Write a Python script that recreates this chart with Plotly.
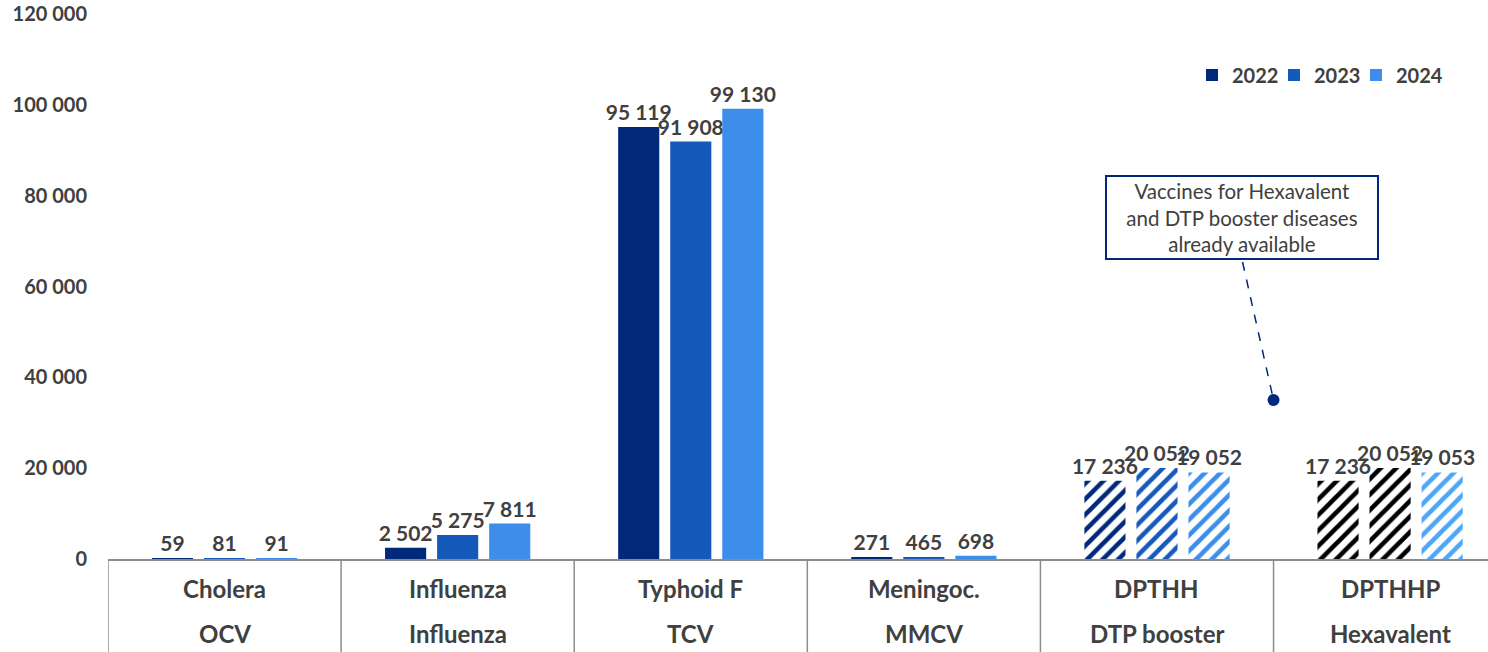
import plotly.graph_objects as go

diseases = ["Cholera", "Influenza", "Typhoid F", "Meningoc.", "DPTHH", "DPTHHP"]
vaccines = ["OCV", "Influenza", "TCV", "MMCV", "DTP booster", "Hexavalent"]
years = ["2022", "2023", "2024"]
v2022 = [59, 2502, 95119, 271, 17236, 17236]
v2023 = [81, 5275, 91908, 465, 20052, 20052]
v2024 = [91, 7811, 99130, 698, 19052, 19053]
values = [v2022, v2023, v2024]
hatched = [False, False, False, False, True, True]
year_colors = ["#00297A", "#1559BB", "#3D8DEB"]
hex_colors = ["#000000", "#000000", "#4DA6F7"]
y_ticks = [0, 20000, 40000, 60000, 80000, 100000, 120000]
note_text = "Vaccines for Hexavalent<br>and DTP booster diseases<br>already available"

FONT = "Lato, 'Open Sans', sans-serif"
TXT = "#404040"
NAVY = "#00297A"

x_idx = list(range(len(diseases)))
fig = go.Figure()
for i, yr in enumerate(years):
    cols = []
    for j in x_idx:
        if j == 5:
            cols.append(hex_colors[i])
        else:
            cols.append(year_colors[i])
    shapes = ["/" if h else "" for h in hatched]
    fig.add_trace(go.Bar(
        x=x_idx, y=values[i], name=yr,
        marker=dict(color=cols, line=dict(width=0),
                    pattern=dict(shape=shapes, fgcolor=cols, bgcolor="white",
                                 size=11, solidity=0.42, fillmode="replace")),
        texttemplate="%{y:,}", textposition="outside",
        textfont=dict(family=FONT, size=21, color=TXT, weight="bold"),
        constraintext="none", cliponaxis=False,
    ))

# blank legend spacer so the last legend text is not clipped
fig.add_trace(go.Scatter(x=[None], y=[None], mode="markers", name=" ",
                         marker=dict(color="rgba(0,0,0,0)"), hoverinfo="skip"))

shp = []
for k in range(len(diseases)):
    shp.append(dict(type="line", xref="x", yref="paper", x0=k - 0.5, x1=k - 0.5,
                    y0=0, y1=-0.2, line=dict(color="#8C8C8C", width=1.5)))
# callout leader
shp.append(dict(type="line", xref="x", yref="y", x0=4.367, y0=65400, x1=4.5, y1=35000,
                line=dict(color=NAVY, width=1.5, dash="dash")))
fig.add_trace(go.Scatter(x=[4.5], y=[35000], mode="markers", showlegend=False,
                         marker=dict(color=NAVY, size=12), hoverinfo="skip"))

ann = []
for k in x_idx:
    ann.append(dict(x=k, y=-0.055, xref="x", yref="paper", text="<b>%s</b>" % diseases[k],
                    showarrow=False, yanchor="middle",
                    font=dict(family=FONT, size=24, color=TXT)))
    ann.append(dict(x=k, y=-0.1376, xref="x", yref="paper", text="<b>%s</b>" % vaccines[k],
                    showarrow=False, yanchor="middle",
                    font=dict(family=FONT, size=24, color=TXT)))
ann.append(dict(x=4.363, y=75200, xref="x", yref="y", text=note_text, showarrow=False,
                align="center", bordercolor=NAVY, borderwidth=2, borderpad=2,
                bgcolor="white", width=266,
                font=dict(family=FONT, size=20.5, color=TXT)))

fig.update_layout(
    width=1488, height=652,
    margin=dict(l=108, r=0, t=14, b=93, autoexpand=False),
    plot_bgcolor="white", paper_bgcolor="white",
    barmode="group", bargap=0.33, bargroupgap=0.21,
    separators=". ",
    font=dict(family=FONT, color=TXT),
    showlegend=True,
    legend=dict(orientation="h", x=0.7855, y=0.888, xanchor="left", yanchor="middle",
                font=dict(family=FONT, size=20, color=TXT, weight="bold"),
                bgcolor="rgba(0,0,0,0)", itemwidth=30, traceorder="normal",
                entrywidth=37, entrywidthmode="pixels"),
    shapes=shp, annotations=ann,
    xaxis=dict(range=[-0.5, 5.42], showticklabels=False, showgrid=False, zeroline=False,
               showline=True, linecolor="#8C8C8C", linewidth=1.5, ticks=""),
    yaxis=dict(range=[0, 120000], tickvals=y_ticks, tickformat=",d", showgrid=False,
               zeroline=False, showline=False, ticks="outside", ticklen=16,
               tickcolor="rgba(0,0,0,0)",
               tickfont=dict(family=FONT, size=20, color=TXT, weight="bold")),
)

fig.write_html("out.html")
